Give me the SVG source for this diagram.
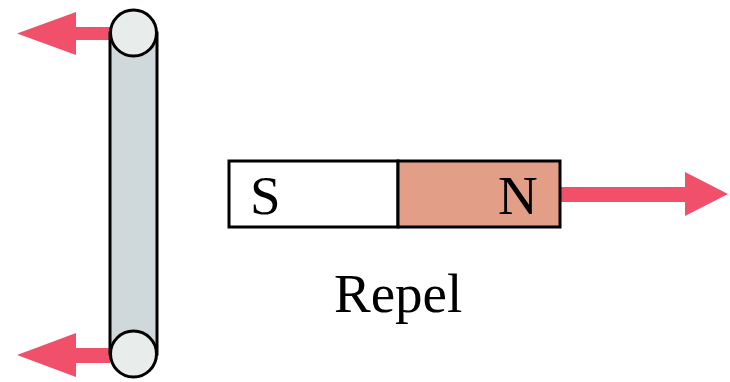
<svg xmlns="http://www.w3.org/2000/svg" width="730" height="382" viewBox="0 0 730 382">
<style>
.arrow{fill:#f0506a;}
.ol{stroke:#000;stroke-width:3;}
.lbl{font-family:"Liberation Serif",serif;font-size:55px;fill:#000;}
</style>
<rect width="730" height="382" fill="#fff"/>
<g id="connectors">
<polygon class="arrow" points="110,27 76,27 76,12 17,33.5 76,55 76,40 110,40"/>
<polygon class="arrow" points="110,348 76,348 76,333 17,355 76,377 76,363 110,363"/>
<polygon class="arrow" points="560,187 685,187 685,172 728,194 685,216 685,202 560,202"/>
</g>
<g id="rod">
<rect class="ol" x="110" y="33" width="47" height="321" fill="#cfd8da"/>
<circle class="ol" cx="133.5" cy="354" r="23" fill="#e8ecea"/>
<circle class="ol" cx="133.5" cy="33" r="23" fill="#e8ecea"/>
</g>
<g id="magnet">
<rect class="ol" x="229" y="161" width="169" height="66" fill="#fff"/>
<rect class="ol" x="398" y="161" width="162" height="66" fill="#e29e86"/>
<text class="lbl" x="250" y="214">S</text>
<text class="lbl" x="498" y="214">N</text>
</g>
<g id="label">
<text class="lbl" x="334" y="312">Repel</text>
</g>
</svg>
